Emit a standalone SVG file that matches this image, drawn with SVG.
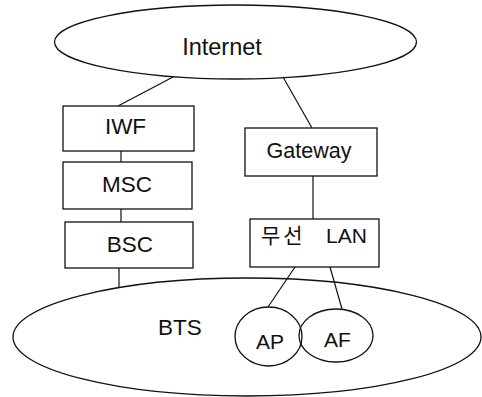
<svg xmlns="http://www.w3.org/2000/svg" width="482" height="397" viewBox="0 0 482 397">
  <style>
    .shape { fill: none; stroke: #111; stroke-width: 1.3; }
    .link { stroke: #111; stroke-width: 1.2; fill: none; }
    .label { font-family: "Liberation Sans", "Noto Sans CJK KR", sans-serif; fill: #111; text-anchor: middle; }
  </style>
  <rect width="482" height="397" fill="#fff"/>

  <!-- connectors -->
  <g id="connectors">
    <line class="link" x1="173" y1="77" x2="118" y2="106"/>
    <line class="link" x1="283" y1="77" x2="312" y2="128"/>
    <line class="link" x1="121" y1="151" x2="121" y2="162"/>
    <line class="link" x1="121" y1="209" x2="121" y2="222"/>
    <line class="link" x1="119" y1="268" x2="119" y2="288"/>
    <line class="link" x1="313" y1="176" x2="313" y2="219"/>
    <line class="link" x1="295" y1="267" x2="268" y2="307"/>
    <line class="link" x1="330" y1="267" x2="342" y2="309"/>
  </g>

  <g id="internet">
    <ellipse class="shape" cx="235.5" cy="42" rx="181" ry="37"/>
    <text class="label" x="222" y="54.5" font-size="23.5">Internet</text>
  </g>

  <g id="iwf">
    <rect class="shape" x="63" y="106" width="131" height="45"/>
    <text class="label" x="125.5" y="134" font-size="22.5">IWF</text>
  </g>

  <g id="msc">
    <rect class="shape" x="63" y="162" width="129" height="47"/>
    <text class="label" x="127" y="192" font-size="22.5">MSC</text>
  </g>

  <g id="bsc">
    <rect class="shape" x="65" y="222" width="128" height="46"/>
    <text class="label" x="130" y="252" font-size="22.5">BSC</text>
  </g>

  <g id="gateway">
    <rect class="shape" x="245" y="128" width="132" height="48"/>
    <text class="label" x="309" y="158" font-size="21.5">Gateway</text>
  </g>

  <g id="wireless-lan">
    <rect class="shape" x="250" y="219" width="129" height="48"/>
    <text class="label" y="243" style="text-anchor:start"><tspan x="261" font-size="21" letter-spacing="3">무선</tspan><tspan x="326" font-size="21">LAN</tspan></text>
  </g>

  <g id="bts">
    <ellipse class="shape" cx="247" cy="337" rx="234" ry="59"/>
    <text class="label" x="180" y="335" font-size="22.5">BTS</text>
  </g>

  <g id="ap1">
    <ellipse class="shape" cx="268.5" cy="336.5" rx="33.5" ry="29.5"/>
    <text class="label" x="270" y="349" font-size="21">AP</text>
  </g>

  <g id="ap2">
    <ellipse class="shape" cx="336" cy="335.5" rx="37" ry="26.5"/>
    <text class="label" x="337.5" y="347" font-size="21">AF</text>
  </g>
</svg>
